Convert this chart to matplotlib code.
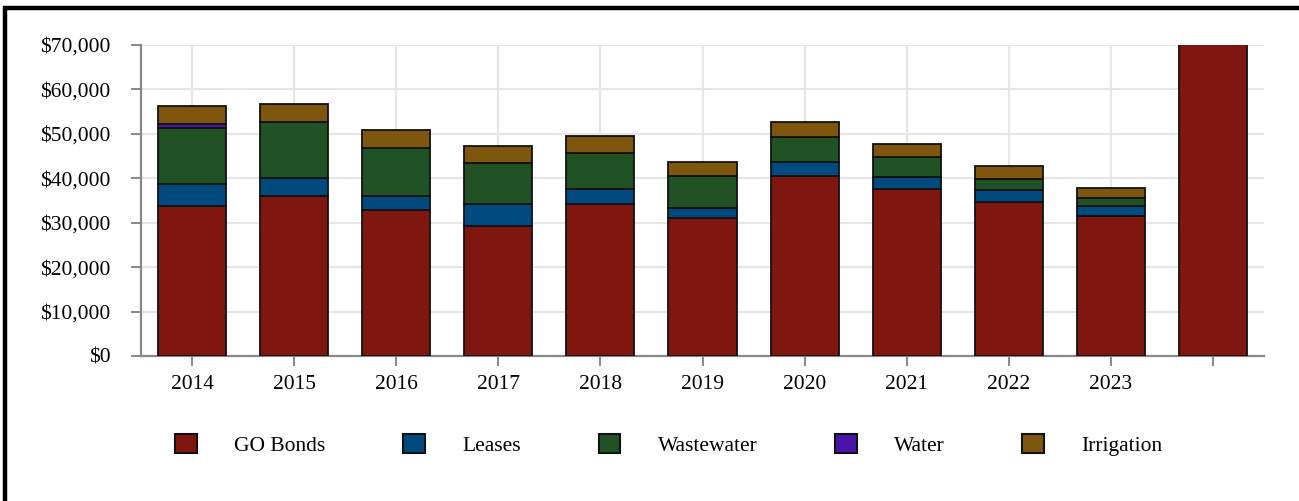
import numpy as np
import matplotlib
matplotlib.use('Agg')
import matplotlib.pyplot as plt
from matplotlib.patches import Rectangle, Patch
from matplotlib.ticker import FuncFormatter

plt.rcParams['font.family'] = ['Liberation Serif', 'DejaVu Serif']

years = ["2014", "2015", "2016", "2017", "2018", "2019", "2020", "2021", "2022", "2023", ""]
go_bonds = [33800, 36000, 32900, 29300, 34100, 31000, 40450, 37700, 34650, 31500, 80000]
leases = [4900, 4000, 3150, 4950, 3600, 2250, 3200, 2700, 2700, 2250, 0]
wastewater = [12700, 12600, 10700, 9300, 8100, 7250, 5700, 4400, 2550, 1750, 0]
water = [750, 0, 0, 0, 0, 0, 0, 0, 0, 0, 0]
irrigation = [4150, 4100, 4100, 3750, 3750, 3150, 3300, 2850, 2900, 2300, 0]

series = ["GO Bonds", "Leases", "Wastewater", "Water", "Irrigation"]
colors = ["#7f1710", "#004a80", "#215225", "#4b14a8", "#7f560d"]

FS = 15.5

fig = plt.figure(figsize=(12.99, 5.01), dpi=100)
ax = fig.add_axes([141 / 1299, 1 - 356 / 501, 1123 / 1299, 311 / 501])

x = np.arange(len(years))
bottom = np.zeros(len(years))
for name, vals, c in zip(series, [go_bonds, leases, wastewater, water, irrigation], colors):
    vals = np.array(vals, dtype=float)
    ax.bar(x, vals, 0.667, bottom=bottom, color=c, edgecolor="#111111",
           linewidth=1.3, zorder=3)
    bottom += vals

ax.set_xlim(-0.5, len(years) - 0.5)
ax.set_ylim(0, 70000)
ax.set_yticks(np.arange(0, 70001, 10000))
ax.yaxis.set_major_formatter(FuncFormatter(lambda v, p: "${:,.0f}".format(v)))
ax.set_xticks(x)
ax.set_xticklabels(years)

ax.grid(True, color="#e6e6e6", linewidth=1.5, zorder=0)
ax.set_axisbelow(True)
for s in ["top", "right"]:
    ax.spines[s].set_visible(False)
for s in ["left", "bottom"]:
    ax.spines[s].set_color("#888888")
    ax.spines[s].set_linewidth(1.6)
ax.tick_params(axis="y", length=7, width=1.4, color="#888888", pad=15, labelsize=FS)
ax.tick_params(axis="x", length=7, width=1.4, color="#888888", pad=7, labelsize=FS)

handles = [Patch(facecolor=c, edgecolor="#111111", linewidth=1.5) for c in colors]
fig.legend(handles, series, loc="center", bbox_to_anchor=(669 / 1299, 1 - 445 / 501),
           ncol=5, frameon=False, fontsize=FS, handlelength=1.0, handleheight=1.0,
           handletextpad=1.75, columnspacing=3.6)

# outer frame (only top and left edges fall inside the picture)
fig.patches.append(Rectangle((5.5 / 1299, -0.1), 1.2, 1 - 7.5 / 501 + 0.1,
                             transform=fig.transFigure, fill=False,
                             edgecolor="black", linewidth=3.2))

fig.savefig("out.png", dpi=100, facecolor="white")
